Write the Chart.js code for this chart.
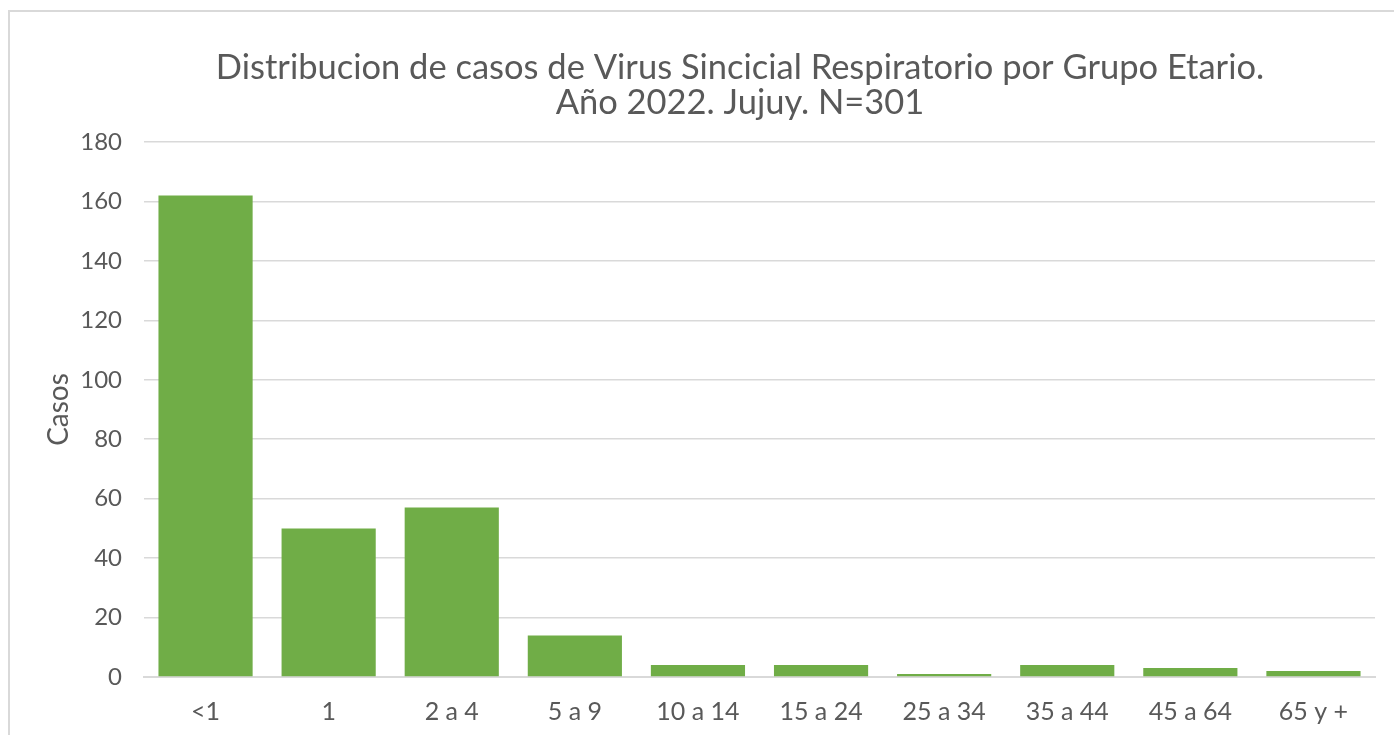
<!DOCTYPE html>
<html>
<head>
<meta charset="utf-8">
<script src="https://cdn.jsdelivr.net/npm/chart.js@4"></script>
<style>
  body { margin: 0; background: #fff; }
  #frame { position: absolute; left: 8px; top: 10px; width: 1400px; height: 740px; border: 2px solid #d9d9d9; box-sizing: border-box; }
  #wrap { position: absolute; left: 0; top: 0; width: 1394px; height: 735px; }
</style>
</head>
<body>
<div id="frame"></div>
<div id="wrap"><canvas id="myChart"></canvas></div>
<script>
  const grupos = ['<1', '1', '2 a 4', '5 a 9', '10 a 14', '15 a 24', '25 a 34', '35 a 44', '45 a 64', '65 y +'];
  const casos = [162, 50, 57, 14, 4, 4, 1, 4, 3, 2];
  const tituloLineas = ['Distribucion de casos de Virus Sincicial Respiratorio por Grupo Etario.', 'Año 2022. Jujuy. N=301'];

  Chart.defaults.font.family = "'Lato', 'DejaVu Sans', sans-serif";
  Chart.defaults.color = '#595959';

  // excel centers the title on the whole chart box, not the plot
  const tituloPlugin = {
    id: 'tituloExcel',
    afterDraw(chart) {
      const c = chart.ctx;
      c.save();
      c.fillStyle = '#595959';
      c.font = "normal 34.5px 'Lato', 'DejaVu Sans', sans-serif";
      c.textAlign = 'center';
      c.textBaseline = 'middle';
      tituloLineas.forEach((t, i) => c.fillText(t, 740, 68 + i * 35));
      c.restore();
    }
  };

  const ctx = document.getElementById('myChart');

  new Chart(ctx, {
    type: 'bar',
    data: {
      labels: grupos,
      datasets: [{
        label: 'Casos',
        data: casos,
        backgroundColor: '#70ad47',
        borderWidth: 0,
        categoryPercentage: 1,
        barPercentage: 0.765
      }]
    },
    plugins: [tituloPlugin],
    options: {
      responsive: true,
      maintainAspectRatio: false,
      animation: false,
      layout: { padding: { top: 142, right: 19, left: 42, bottom: -12 } },
      plugins: {
        legend: { display: false },
        tooltip: { enabled: false },
        title: { display: false }
      },
      scales: {
        x: {
          grid: { display: false, drawTicks: false },
          border: { color: '#d9d9d9', width: 2 },
          ticks: { color: '#595959', font: { size: 25 }, padding: 20, maxRotation: 0, autoSkip: false }
        },
        y: {
          min: 0,
          max: 180,
          beginAtZero: true,
          grid: { color: '#d9d9d9', lineWidth: 1.5, drawTicks: false },
          border: { display: false },
          ticks: { stepSize: 20, color: '#595959', font: { size: 24 }, padding: 22 },
          title: { display: true, text: 'Casos', color: '#595959', font: { size: 28 }, padding: { top: 0, bottom: 0 } },
          afterFit(scale) { scale.width = 102; }
        }
      }
    }
  });
</script>
</body>
</html>
